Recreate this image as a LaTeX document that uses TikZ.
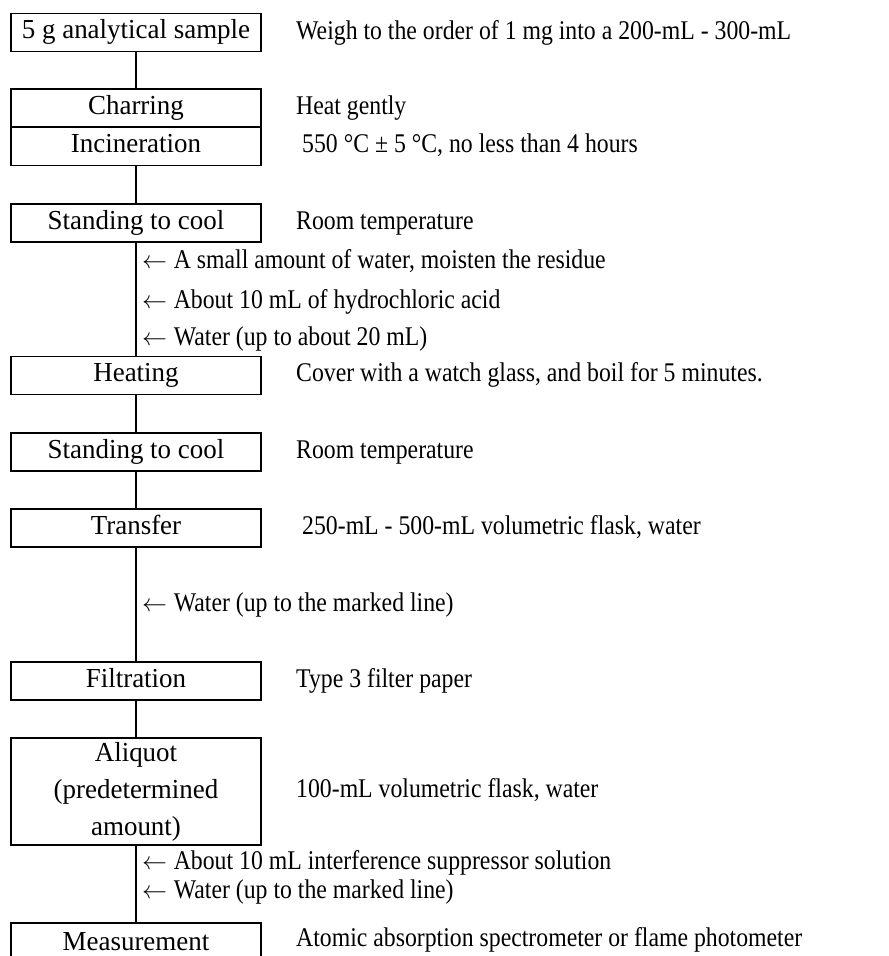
\documentclass[tikz,border=0pt]{standalone}
\usepackage{fontspec}
\setmainfont{Liberation Serif}[FakeStretch=0.88]
\newfontfamily\boxfont{Liberation Serif}[FakeStretch=0.98]
\newcommand\fsz{\fontsize{27}{37}\selectfont}
\newcommand\bsz{\boxfont\fontsize{27.5}{37}\selectfont}
\newcommand\larr{$\leftarrow$\hspace{0.25em}}
\begin{document}
\begin{tikzpicture}[x=1pt,y=-1pt,
  box/.style={draw, line width=1.5pt, minimum width=250pt, minimum height=38pt,
    inner sep=0pt, font=\bsz, text height=18pt, text depth=6pt, align=center},
  note/.style={anchor=west, inner sep=0pt, font=\fsz, text height=18pt, text depth=6pt},
  flow/.style={line width=1.5pt}]
\useasboundingbox (0,0) rectangle (889,956);
\clip (0,0) rectangle (889,956);
\fill[white] (0,0) rectangle (889,956);

\node[box] (s1) at (136,32.5) {5 g analytical sample};
\node[box] (char) at (136,108) {Charring};
\node[box] (inc) at (136,146.5) {Incineration};
\node[box] (cool1) at (136,223) {Standing to cool};
\node[box] (heat) at (136,375.5) {Heating};
\node[box] (cool2) at (136,452) {Standing to cool};
\node[box] (trans) at (136,528) {Transfer};
\node[box] (filt) at (136,681) {Filtration};
\node[box, minimum height=107pt, text height=, text depth=] (aliq) at (136,791.5) {Aliquot\\(predetermined\\amount)};
\node[box, anchor=north, minimum height=44pt] (meas) at (136,922) {Measurement};

\draw[flow] (s1) -- (char);
\draw[flow] (inc) -- (cool1);
\draw[flow] (cool1) -- (heat);
\draw[flow] (heat) -- (cool2);
\draw[flow] (cool2) -- (trans);
\draw[flow] (trans) -- (filt);
\draw[flow] (filt) -- (aliq);
\draw[flow] (aliq) -- (meas);

\node[note] (n1) at (296,33) {Weigh to the order of 1 mg into a 200-mL - 300-mL};
\node[note] (n2) at (296,108) {Heat gently};
\node[note] (n3) at (302,146) {550 °C ± 5 °C, no less than 4 hours};
\node[note] (n4) at (296,223) {Room temperature};
\node[note] (n5) at (296,375) {Cover with a watch glass, and boil for 5 minutes.};
\node[note] (n6) at (296,452) {Room temperature};
\node[note] (n7) at (302,528) {250-mL - 500-mL volumetric flask, water};
\node[note] (n8) at (296,681) {Type 3 filter paper};
\node[note] (n9) at (296,791) {100-mL volumetric flask, water};
\node[note] (n10) at (296,940) {Atomic absorption spectrometer or flame photometer};

\node[note] (a1) at (142,262) {\larr A small amount of water, moisten the residue};
\node[note] (a2) at (142,302) {\larr About 10 mL of hydrochloric acid};
\node[note] (a3) at (142,339) {\larr Water (up to about 20 mL)};
\node[note] (a4) at (142,605) {\larr Water (up to the marked line)};
\node[note] (a5) at (142,863) {\larr About 10 mL interference suppressor solution};
\node[note] (a6) at (142,892) {\larr Water (up to the marked line)};
\end{tikzpicture}
\end{document}
